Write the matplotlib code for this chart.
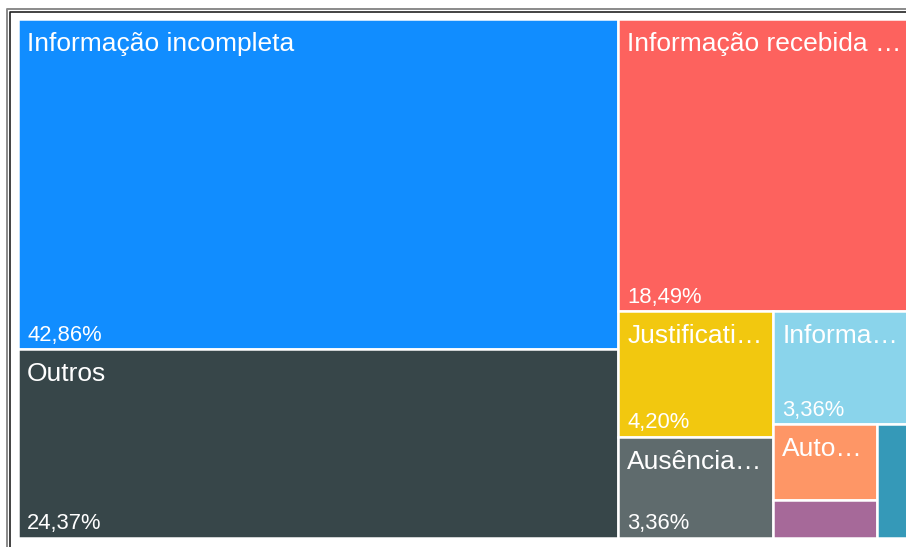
import math
import matplotlib.pyplot as plt
from matplotlib.patches import Rectangle
from matplotlib.lines import Line2D

# dados do treemap (rótulos como aparecem no gráfico)
labels = [
    "Informação incompleta",
    "Outros",
    "Informação recebida …",
    "Justificati…",
    "Ausência…",
    "Informa…",
    "Auto…",
    "",
    "",
]
values = [42.86, 24.37, 18.49, 4.20, 3.36, 3.36, 1.68, 0.84, 0.84]
colors = [
    "#118DFF", "#374649", "#FD625E", "#F2C80F", "#5F6B6D",
    "#8AD4EB", "#FE9666", "#A66999", "#3599B8",
]

SQUARE_RATIO = 0.5 * (1 + math.sqrt(5))


def worst(row_areas, fixed_len, ratio):
    total = sum(row_areas)
    if total == 0:
        return float("inf")
    f = fixed_len * fixed_len * ratio
    sq = total * total
    return max(f * max(row_areas) / sq, sq / (f * min(row_areas)))


def position(row, fixed_len, rect, flush, out):
    # rect = [x, y, w, h]
    horizontal = fixed_len == rect[2]
    i0 = 0 if horizontal else 1
    i1 = 1 - i0
    area = sum(a for _, a in row)
    other = area / fixed_len if fixed_len else 0
    limit = rect[2 + i1]
    if flush or other > limit:
        other = limit
    last = rect[i0]
    for k, (idx, a) in enumerate(row):
        step = a / other if other else 0
        remain = rect[i0] + rect[2 + i0] - last
        mod = remain if (k == len(row) - 1 or remain < step) else step
        box = [0, 0, 0, 0]
        box[i0] = last
        box[i1] = rect[i1]
        box[2 + i0] = mod
        box[2 + i1] = other
        out[idx] = box
        last += mod
    rect[i1] += other
    rect[2 + i1] -= other


def squarify(vals, x, y, w, h):
    total = sum(vals)
    areas = [v * w * h / total for v in vals]
    rect = [x, y, w, h]
    out = [None] * len(vals)
    fixed = min(w, h)
    best = float("inf")
    row = []
    i = 0
    while i < len(areas):
        row.append((i, areas[i]))
        score = worst([a for _, a in row], fixed, SQUARE_RATIO)
        if score <= best:
            i += 1
            best = score
        else:
            row.pop()
            position(row, fixed, rect, False, out)
            fixed = min(rect[2], rect[3])
            row = []
            best = float("inf")
    if row:
        position(row, fixed, rect, True, out)
    return out


fig = plt.figure(figsize=(9.06, 5.47), dpi=100)
ax = fig.add_axes([0, 0, 1, 1])
ax.set_xlim(0, 906)
ax.set_ylim(547, 0)
ax.axis("off")

boxes = squarify(values, 18, 18.5, 893, 519)

for label, value, color, (bx, by, bw, bh) in zip(labels, values, colors, boxes):
    ax.add_patch(Rectangle((bx, by), bw, bh, facecolor=color,
                           edgecolor="white", linewidth=1.8))
    if not label or bw < 60:
        continue
    if bh > 45:
        ax.text(bx + 9, by + 32, label, color="white", fontsize=19,
                family="Liberation Sans", va="baseline", ha="left",
                clip_on=True)
    if bh > 90:
        pct = f"{value:.2f}%".replace(".", ",")
        ax.text(bx + 9, by + bh - 8.5, pct, color="white", fontsize=15.8,
                family="Liberation Sans", va="baseline", ha="left",
                clip_on=True)

# moldura dupla (superior e esquerda)
ax.add_line(Line2D([6.5, 6.5, 906], [547, 9, 9], color="#8a8a8a", lw=1.4))
ax.add_line(Line2D([9.8, 9.8, 906], [547, 11.8, 11.8], color="#222222", lw=1.2))

fig.savefig("out.png", dpi=100)
